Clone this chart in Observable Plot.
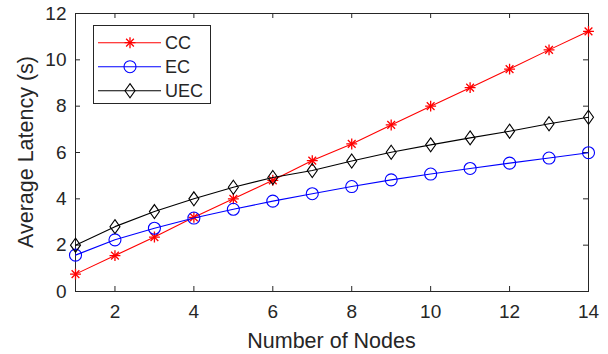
<!DOCTYPE html>
<html>
<head>
<meta charset="utf-8">
<script src="https://cdn.jsdelivr.net/npm/d3@7"></script>
<script src="https://cdn.jsdelivr.net/npm/@observablehq/plot@0.6"></script>
<style>
  html, body { margin: 0; padding: 0; background: #fff; }
  #chart { position: relative; width: 608px; height: 354px; }
</style>
</head>
<body>
<div id="chart"></div>
<script>
const nodes = [1, 2, 3, 4, 5, 6, 7, 8, 9, 10, 11, 12, 13, 14];
const ccLatency  = [0.75, 1.55, 2.35, 3.2, 4.0, 4.8, 5.65, 6.37, 7.19, 8.0, 8.8, 9.6, 10.43, 11.23];
const ecLatency  = [1.57, 2.23, 2.73, 3.17, 3.55, 3.9, 4.22, 4.53, 4.82, 5.07, 5.31, 5.54, 5.76, 5.99];
const uecLatency = [2.0, 2.8, 3.45, 4.0, 4.5, 4.92, 5.22, 5.63, 6.01, 6.33, 6.63, 6.92, 7.24, 7.52];
const seriesNames = ["CC", "EC", "UEC"];
const xTicks = [2, 4, 6, 8, 10, 12, 14];
const yTicks = [0, 2, 4, 6, 8, 10, 12];
const xLabel = "Number of Nodes";
const yLabel = "Average Latency (s)";

const colors = {CC: "#ff0000", EC: "#0000ff", UEC: "#000000"};
const axisColor = "#262626";
const fontFamily = "'Liberation Sans', Arial, sans-serif";

const series = {CC: ccLatency, EC: ecLatency, UEC: uecLatency};
const rows = seriesNames.flatMap(s => nodes.map((n, i) => ({series: s, x: n, y: series[s][i]})));

// MATLAB-like tall diamond
const diamondTall = {
  draw(ctx, size) {
    const s = Math.sqrt(size);
    const h = s * 0.66, w = s * 0.47;
    ctx.moveTo(0, -h); ctx.lineTo(w, 0); ctx.lineTo(0, h); ctx.lineTo(-w, 0); ctx.closePath();
  }
};

const W = 608, H = 354;
const mL = 75, mR = 20, mT = 13, mB = 63;
const innerW = W - mL - mR, innerH = H - mT - mB;
const tickLen = 5;

const marks = [
  Plot.frame({stroke: axisColor, strokeWidth: 1}),
  Plot.ruleX(xTicks, {stroke: axisColor, insetTop: innerH - tickLen}),
  Plot.ruleX(xTicks, {stroke: axisColor, insetBottom: innerH - tickLen}),
  Plot.ruleY(yTicks, {stroke: axisColor, insetRight: innerW - tickLen}),
  Plot.ruleY(yTicks, {stroke: axisColor, insetLeft: innerW - tickLen}),
  Plot.axisX({ticks: xTicks, tickSize: 0, tickPadding: 13, fontSize: 19, color: axisColor, label: null}),
  Plot.axisY({ticks: yTicks, tickSize: 0, tickPadding: 9, fontSize: 19, color: axisColor, label: null})
];
for (const s of seriesNames) {
  const data = rows.filter(d => d.series === s);
  marks.push(Plot.line(data, {x: "x", y: "y", stroke: colors[s], strokeWidth: 1.1}));
  if (s === "CC") {
    marks.push(Plot.dot(data, {x: "x", y: "y", symbol: "plus", r: 3.6, stroke: colors[s], fill: "none", strokeWidth: 1.3}));
    marks.push(Plot.dot(data, {x: "x", y: "y", symbol: "times", r: 3.6, stroke: colors[s], fill: "none", strokeWidth: 1.3}));
  } else if (s === "EC") {
    marks.push(Plot.dot(data, {x: "x", y: "y", symbol: "circle", r: 6, stroke: colors[s], fill: "none", strokeWidth: 1.1}));
  } else {
    marks.push(Plot.dot(data, {x: "x", y: "y", symbol: diamondTall, r: 6, stroke: colors[s], fill: "none", strokeWidth: 1.1}));
  }
}

const plot = Plot.plot({
  width: W, height: H,
  marginLeft: mL, marginRight: mR, marginTop: mT, marginBottom: mB,
  style: {fontFamily, fontSize: "19px", background: "#fff", color: axisColor},
  x: {domain: [1, 14], axis: null},
  y: {domain: [0, 12], axis: null},
  marks
});

const svg = d3.select(plot);

// Axis titles
svg.append("text")
  .attr("x", mL + innerW / 2).attr("y", 348)
  .attr("text-anchor", "middle").attr("font-family", fontFamily).attr("font-size", 21.5)
  .attr("fill", axisColor).text(xLabel);
svg.append("text")
  .attr("transform", `translate(33,${mT + innerH / 2}) rotate(-90)`)
  .attr("text-anchor", "middle").attr("font-family", fontFamily).attr("font-size", 21.5)
  .attr("fill", axisColor).text(yLabel);

// Legend box (MATLAB style, north-west)
const lg = svg.append("g").attr("font-family", fontFamily).attr("font-size", 18).attr("text-anchor", "start");
const lx = 93, ly = 25, lw = 117, lh = 78;
lg.append("rect").attr("x", lx + 0.5).attr("y", ly + 0.5).attr("width", lw).attr("height", lh)
  .attr("fill", "#fff").attr("stroke", axisColor).attr("stroke-width", 1);
seriesNames.forEach((s, i) => {
  const cy = 42.7 + i * 24;
  const g = lg.append("g");
  g.append("line").attr("x1", 98).attr("x2", 161).attr("y1", cy).attr("y2", cy)
    .attr("stroke", colors[s]).attr("stroke-width", 1.1);
  const size = Math.PI * (s === "CC" ? 3.6 : 6) ** 2;
  const types = s === "CC" ? [d3.symbolPlus, d3.symbolTimes] : s === "EC" ? [d3.symbolCircle] : [diamondTall];
  for (const t of types) {
    g.append("path").attr("d", d3.symbol(t, size)()).attr("transform", `translate(130,${cy})`)
      .attr("fill", "none").attr("stroke", colors[s]).attr("stroke-width", s === "CC" ? 1.3 : 1.1);
  }
  g.append("text").attr("x", 165).attr("y", cy).attr("dy", "0.35em").attr("fill", axisColor).text(s);
});

document.getElementById("chart").appendChild(plot);
</script>
</body>
</html>
